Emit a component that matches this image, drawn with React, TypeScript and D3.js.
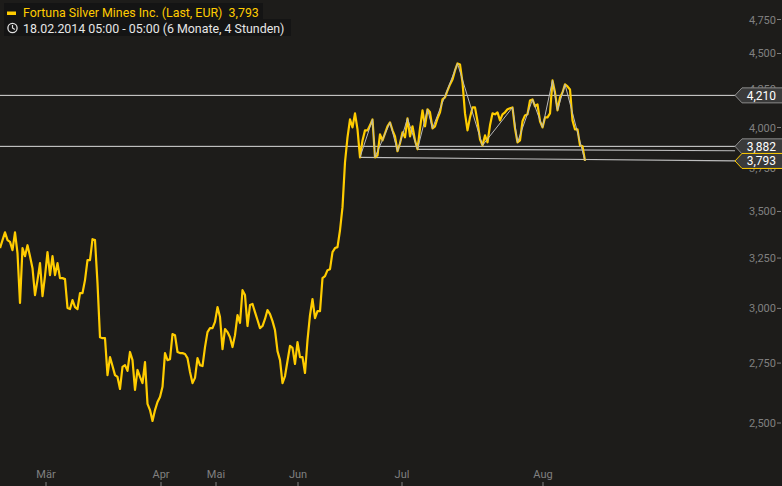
import React from 'react';
import * as d3 from 'd3';

// Price series (Last, EUR), equally spaced sampling along the chart's index axis
const prices: number[] = [
  3302, 3344, 3386, 3344, 3335, 3291, 3386, 3275, 3026, 3302,
  3260, 3317, 3260, 3198, 3064, 3138, 3224, 3059, 3158, 3281,
  3163, 3260, 3163, 3224, 3148, 3148, 3143, 3002, 2997, 3040,
  3006, 2997, 3074, 3074, 3138, 3239, 3239, 3349, 3344, 3123,
  2865, 2861, 2861, 2698, 2776, 2737, 2698, 2690, 2639, 2733,
  2741, 2716, 2799, 2763, 2635, 2720, 2690, 2664, 2754, 2577,
  2552, 2508, 2552, 2585, 2606, 2648, 2794, 2763, 2767, 2880,
  2875, 2799, 2794, 2794, 2790, 2772, 2711, 2664, 2686, 2772,
  2741, 2737, 2821, 2889, 2907, 2907, 2936, 3006, 2959, 2812,
  2903, 2889, 2865, 2821, 2875, 2968, 2931, 3088, 3064, 2917,
  3016, 3021, 2982, 2945, 2907, 2917, 2950, 2992, 2973, 2940,
  2898, 2803, 2763, 2664, 2694, 2759, 2826, 2817, 2746, 2843,
  2776, 2776, 2707, 2852, 2968, 3045, 2954, 2987, 2987, 3148,
  3158, 3188, 3193, 3281, 3302, 3307, 3397, 3524, 3785, 3938,
  4052, 4001, 4091, 3988, 3815, 3919, 3982, 3982, 4014, 4052,
  3815, 3827, 3957, 3919, 3963, 4008, 4033, 3982, 3944, 3852,
  3901, 3969, 3938, 4059, 3944, 4008, 3919, 3864, 3995, 4111,
  4008, 4118, 4098, 3995, 4008, 4059, 4098, 4183, 4196, 4243,
  4284, 4318, 4380, 4429, 4422, 4297, 4091, 3982, 4065, 4130,
  4130, 4040, 3925, 3888, 3950, 3907, 4014, 4091, 4085, 4098,
  4046, 4085, 4098, 4118, 4124, 4130, 3995, 3907, 3919, 4040,
  4078, 4085, 4176, 4183, 4137, 4150, 4040, 4001, 4065, 4065,
  4091, 4311, 4229, 4111, 4196, 4229, 4284, 4270, 4250, 4046,
  3988, 3988, 3888, 3882, 3793,
];

const monthLabels = ['Mär', 'Apr', 'Mai', 'Jun', 'Jul', 'Aug'];
const monthPositions = [18.4, 64.4, 86.4, 119.2, 160.8, 217.2];

const yTickValues = [2500, 2750, 3000, 3250, 3500, 3750, 4000, 4250, 4500, 4750];

const levelValues = [4210, 3882];
const lastPrice = 3793;

// zig-zag pivot indices into prices
const zigzagPivots = [144, 149, 150, 156, 159, 163, 167, 171, 173, 183, 193, 205, 207, 213, 217, 221, 223, 226, 234];

// trend lines: start index, start value, value at right edge
const trendStarts = [144, 167];
const trendStartValues = [3815, 3864];
const trendEndValues = [3793, 3855];

const titleText = 'Fortuna Silver Mines Inc. (Last, EUR)';
const subtitleText = '18.02.2014 05:00 - 05:00 (6 Monate, 4 Stunden)';

const BG = '#1d1c1a';
const YELLOW = '#ffcc00';
const AXIS = '#808080';
const FONT = 'Roboto, "Liberation Sans", Arial, sans-serif';

export default function App() {
  const W = 782;
  const H = 486;
  const x = d3.scaleLinear().domain([0, prices.length - 1]).range([0, 585]);
  const y = d3.scaleLog().domain([2500, 4750]).range([423, 19.5]);
  const fmt = d3.format(',');

  const pricePath = d3
    .line<number>()
    .x((_, i) => x(i))
    .y((d) => y(d))(prices) as string;

  const zigzagPath = d3
    .line<number>()
    .x((i) => x(i))
    .y((i) => y(prices[i]))(zigzagPivots) as string;

  const tipX = 735;

  const box = (v: number, stroke: string, key: string) => {
    const cy = y(v);
    const h = 7.5;
    const pts = [
      [tipX, cy],
      [tipX + 7, cy - h],
      [W + 2, cy - h],
      [W + 2, cy + h],
      [tipX + 7, cy + h],
    ]
      .map((p) => p.join(','))
      .join(' ');
    return (
      <g key={key}>
        <polygon points={pts} fill="#3a3a3a" stroke={stroke} strokeWidth={1} />
        <text x={776} y={cy + 4.2} fill="#ffffff" fontSize={12} textAnchor="end" fontFamily={FONT}>
          {fmt(v)}
        </text>
      </g>
    );
  };

  return (
    <svg
      width={W}
      height={H}
      style={{ position: 'absolute', left: 0, top: 0, display: 'block', background: BG }}
    >
      <rect x={0} y={0} width={W} height={H} fill={BG} />

      {/* level lines */}
      {levelValues.map((v) => (
        <line key={'lv' + v} x1={0} x2={W} y1={y(v)} y2={y(v)} stroke="#dcdcdc" strokeWidth={1} />
      ))}

      {/* trend lines */}
      {trendStarts.map((s, k) => (
        <line
          key={'tr' + k}
          x1={x(s)}
          y1={y(trendStartValues[k])}
          x2={tipX}
          y2={y(trendEndValues[k])}
          stroke="#bdbdbd"
          strokeWidth={1.2}
        />
      ))}

      {/* price line */}
      <path d={pricePath} fill="none" stroke={YELLOW} strokeWidth={2.2} strokeLinejoin="round" />

      {/* zigzag */}
      <path d={zigzagPath} fill="none" stroke="#b8b8b8" strokeWidth={1} strokeLinejoin="round" />

      {/* y axis */}
      {yTickValues.map((v) => (
        <g key={'yt' + v}>
          <text x={776} y={y(v) + 4} fill={AXIS} fontSize={11} textAnchor="end" fontFamily={FONT}>
            {fmt(v)}
          </text>
          <line x1={777} x2={781} y1={y(v)} y2={y(v)} stroke={AXIS} strokeWidth={1} />
        </g>
      ))}

      {/* x axis */}
      {monthLabels.map((m, i) => (
        <g key={'xt' + m}>
          <text x={x(monthPositions[i])} y={478} fill={AXIS} fontSize={11} textAnchor="middle" fontFamily={FONT}>
            {m}
          </text>
          <line
            x1={x(monthPositions[i])}
            x2={x(monthPositions[i])}
            y1={482}
            y2={486}
            stroke={AXIS}
            strokeWidth={1}
          />
        </g>
      ))}

      {/* price labels */}
      {levelValues.map((v) => box(v, '#8c8c8c', 'bx' + v))}
      {box(lastPrice, YELLOW, 'bxlast')}

      {/* header */}
      <rect x={4} y={3} width={259} height={17} fill="#141414" />
      <rect x={4} y={19} width={287} height={17} fill="#141414" />
      <rect x={7} y={11.5} width={9} height={3.5} fill={YELLOW} />
      <text x={23} y={16.5} fill={YELLOW} fontSize={12.4} fontFamily={FONT} style={{ whiteSpace: 'pre' }}>
        {titleText + '  ' + fmt(lastPrice)}
      </text>
      <circle cx={12.5} cy={28} r={4.6} fill="none" stroke="#e0e0e0" strokeWidth={1.3} />
      <path d="M12.5,25 L12.5,28 L14.8,29.6" fill="none" stroke="#e0e0e0" strokeWidth={1.2} />
      <text x={23} y={32.5} fill="#e6e6e6" fontSize={12.4} fontFamily={FONT}>
        {subtitleText}
      </text>
    </svg>
  );
}
